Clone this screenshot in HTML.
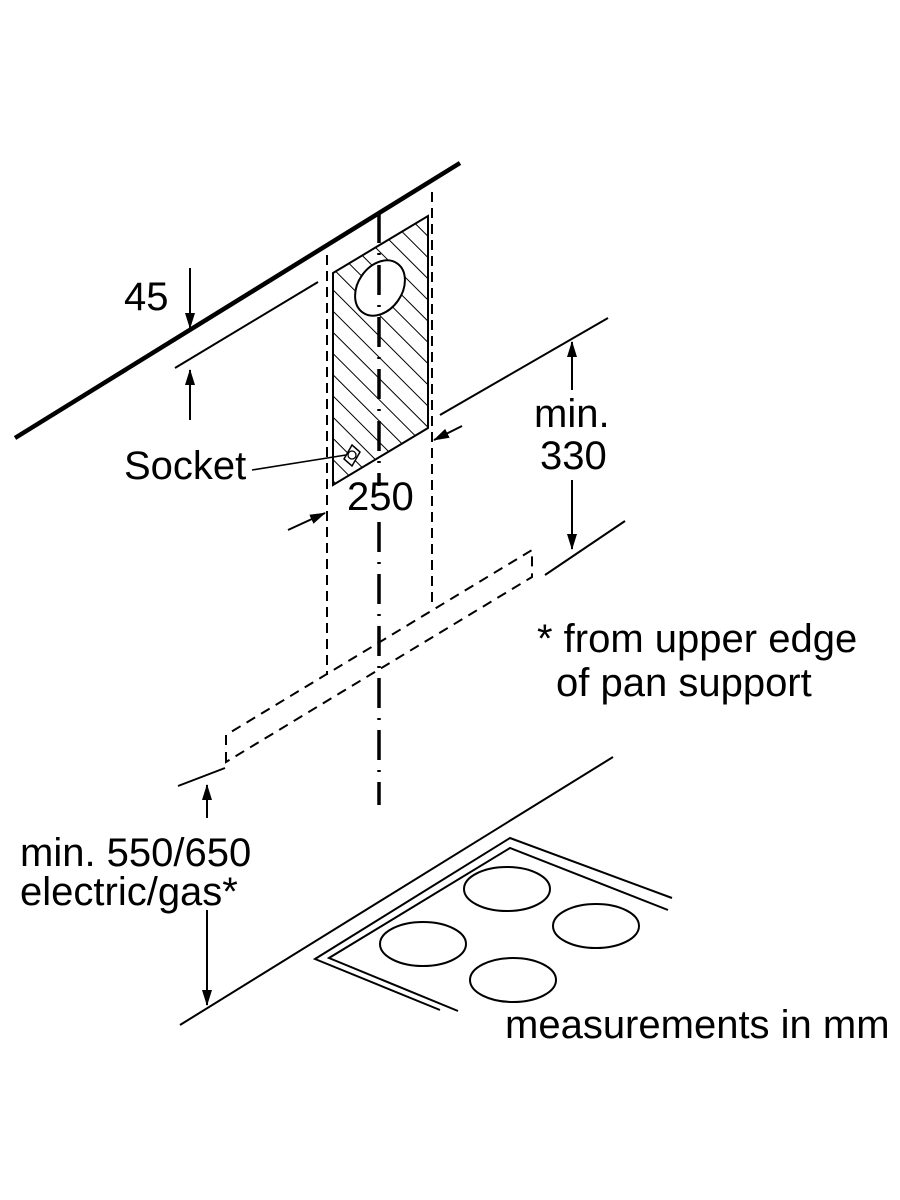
<!DOCTYPE html>
<html><head><style>body{margin:0;background:#fff}svg{display:block}text{font-family:"Liberation Sans",sans-serif;fill:#000}</style></head><body>
<svg width="900" height="1200" viewBox="0 0 900 1200" xmlns="http://www.w3.org/2000/svg">
<defs>
<pattern id="h" patternUnits="userSpaceOnUse" width="15" height="15" patternTransform="rotate(-45)">
<line x1="0" y1="0" x2="0" y2="15" stroke="#000" stroke-width="2"/>
</pattern>
<clipPath id="c"><polygon points="333,273 428,216 428,428 333,485"/></clipPath>
<marker id="a" markerWidth="16" markerHeight="12" refX="15" refY="6" orient="auto" markerUnits="userSpaceOnUse"><path d="M0,1 L16,6 L0,11 z" fill="#000"/></marker>
</defs>
<g fill="none" stroke="#000">
<line x1="15" y1="438" x2="460" y2="163" stroke-width="4.5"/>
<rect x="320" y="200" width="120" height="300" fill="url(#h)" stroke="none" clip-path="url(#c)"/>
<ellipse cx="380" cy="288" rx="22" ry="30" transform="rotate(35 380 288)" fill="#fff" stroke-width="2"/>
<polygon points="333,273 428,216 428,428 333,485" stroke-width="2"/>
<polygon points="352,445 360,452 352,466 344,459" fill="#fff" stroke-width="1.5"/>
<circle cx="352" cy="455" r="4" stroke-width="1.3"/>
<line x1="252" y1="470" x2="346" y2="455" stroke-width="1.5"/>
<line x1="327" y1="255" x2="327" y2="675" stroke-width="2" stroke-dasharray="10,6"/>
<line x1="432" y1="192" x2="432" y2="607" stroke-width="2" stroke-dasharray="10,6"/>
<line x1="379" y1="213" x2="379" y2="486" stroke-width="3.5" stroke-dasharray="30,10,2,10"/>
<line x1="379" y1="522" x2="379" y2="805" stroke-width="3.5" stroke-dasharray="30,10,2,10"/>
<line x1="175" y1="368" x2="318" y2="282" stroke-width="2"/>
<line x1="190" y1="268" x2="190" y2="328" stroke-width="2" marker-end="url(#a)"/>
<line x1="190" y1="420" x2="190" y2="370" stroke-width="2" marker-end="url(#a)"/>
<line x1="440" y1="415" x2="608" y2="318" stroke-width="2"/>
<line x1="545" y1="575" x2="625" y2="521" stroke-width="2"/>
<line x1="572" y1="390" x2="572" y2="342" stroke-width="2" marker-end="url(#a)"/>
<line x1="572" y1="480" x2="572" y2="549" stroke-width="2" marker-end="url(#a)"/>
<line x1="462" y1="426" x2="434" y2="440" stroke-width="2" marker-end="url(#a)"/>
<line x1="288" y1="530" x2="325" y2="513" stroke-width="2" marker-end="url(#a)"/>
<path d="M226,762 L226,735 L532,550 L532,577 Z" stroke-width="2" stroke-dasharray="10,7"/>
<line x1="178" y1="786" x2="225" y2="768" stroke-width="2"/>
<line x1="207" y1="818" x2="207" y2="785" stroke-width="2" marker-end="url(#a)"/>
<line x1="207" y1="910" x2="207" y2="1005" stroke-width="2" marker-end="url(#a)"/>
<line x1="180" y1="1025" x2="613" y2="757" stroke-width="2"/>
<polyline points="440,1010 315,959 510,838 672,898" stroke-width="2"/>
<polyline points="458,1011 329,958 510,848 668,910" stroke-width="2"/>
<ellipse cx="507" cy="889" rx="43" ry="22" stroke-width="2"/>
<ellipse cx="596" cy="926" rx="43" ry="22" stroke-width="2"/>
<ellipse cx="423" cy="944" rx="43" ry="22" stroke-width="2"/>
<ellipse cx="513" cy="980" rx="43" ry="22" stroke-width="2"/>
</g>
<g font-size="40">
<text x="124" y="310">45</text>
<text x="124" y="479">Socket</text>
<text x="347" y="510">250</text>
<text x="534" y="427">min.</text>
<text x="540" y="469">330</text>
<text x="537" y="652">* from upper edge</text>
<text x="556" y="696">of pan support</text>
<text x="20" y="866">min. 550/650</text>
<text x="20" y="905">electric/gas*</text>
<text x="505" y="1038">measurements in mm</text>
</g>
</svg>
</body></html>
